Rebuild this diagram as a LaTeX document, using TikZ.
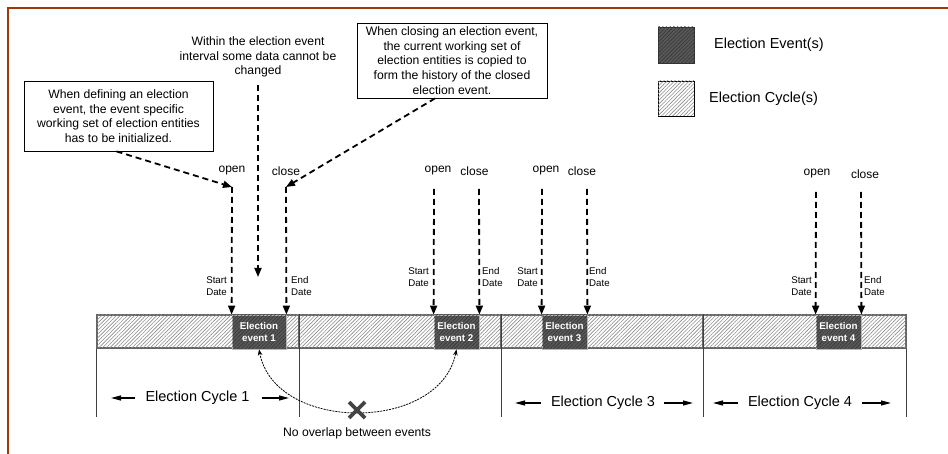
\documentclass[tikz,border=0pt]{standalone}
\usepackage{fontspec}
\setmainfont{Liberation Sans}
\usetikzlibrary{arrows.meta,patterns.meta}

\definecolor{framebrown}{RGB}{160,56,10}
\definecolor{evgray}{RGB}{88,88,88}
\definecolor{evline}{RGB}{55,55,55}
\definecolor{cycline}{RGB}{140,140,140}
\definecolor{barborder}{RGB}{100,100,100}
\definecolor{xgray}{RGB}{68,68,68}

\begin{document}
\begin{tikzpicture}[x=1pt,y=-1pt,
  hatch/.style={postaction={pattern={Lines[angle=45,distance=2.6pt,line width=0.6pt]},pattern color=#1}},
  cycbox/.style={draw=barborder,line width=1.1pt,fill=white,hatch=cycline,
    minimum height=33pt,inner sep=0pt},
  evbox/.style={draw=gray!55,line width=0.8pt,fill=evgray,hatch=evline,
    minimum height=34pt,inner sep=0pt,text=white,align=center,
    font=\fontsize{9.8}{11.5}\selectfont\bfseries},
  callout/.style={draw=black,line width=0.8pt,fill=white,align=center,inner sep=2pt,
    font=\fontsize{12.2}{14.6}\selectfont},
  note/.style={align=center,inner sep=0pt,font=\fontsize{12.2}{14.6}\selectfont},
  ocl/.style={inner sep=0pt,font=\fontsize{12}{14}\selectfont},
  datelbl/.style={inner sep=0pt,font=\fontsize{9.7}{12}\selectfont},
  cyclbl/.style={inner sep=0pt,font=\fontsize{14.5}{17}\selectfont},
  dasharrow/.style={line width=1.8pt,dash pattern=on 6pt off 4pt,
    -{Triangle[length=9pt,width=7pt]}},
  cycarrow/.style={line width=1.2pt,-{Triangle[length=10pt,width=5pt]}},
  divider/.style={line width=0.9pt,draw=black!75},
  overlap/.style={line width=0.8pt,dash pattern=on 2pt off 1pt,
    {Stealth[length=6pt,width=4.5pt]}-{Stealth[length=6pt,width=4.5pt]}},
]
\useasboundingbox (0,0) rectangle (948,454);

% frame
\draw[framebrown,line width=2.2pt] (8,454) -- (8,8) -- (948,8);

% election cycles bar
\node[cycbox,minimum width=202pt] (cyc1) at (198,331.5) {};
\node[cycbox,minimum width=202pt] (cyc2) at (400,331.5) {};
\node[cycbox,minimum width=202pt] (cyc3) at (602,331.5) {};
\node[cycbox,minimum width=203pt] (cyc4) at (804.5,331.5) {};

% election events
\node[evbox,minimum width=54pt] (ev1) at (259,332) {Election\\event 1};
\node[evbox,minimum width=45pt] (ev2) at (456.5,332) {Election\\event 2};
\node[evbox,minimum width=45pt] (ev3) at (564.5,332) {Election\\event 3};
\node[evbox,minimum width=45pt] (ev4) at (838.5,332) {Election\\event 4};

% cycle boundaries
\coordinate (base) at (0,417);
\draw[divider] (cyc1.south west) -- (cyc1.south west |- base);
\draw[divider] (cyc1.north east) -- (cyc1.north east |- base);
\draw[divider] (cyc2.north east) -- (cyc2.north east |- base);
\draw[divider] (cyc3.north east) -- (cyc3.north east |- base);
\draw[divider] (cyc4.south east) -- (cyc4.south east |- base);

% cycle labels
\node[cyclbl] (lab1) at (197.5,398) {Election Cycle 1};
\coordinate (l1a) at (111,398); \coordinate (l1b) at (289,398);
\draw[cycarrow] ([xshift=-10pt]lab1.west) -- (l1a);
\draw[cycarrow] ([xshift=12pt]lab1.east) -- (l1b);
\node[cyclbl] (lab3) at (603,403) {Election Cycle 3};
\coordinate (l3a) at (515,403); \coordinate (l3b) at (693,403);
\draw[cycarrow] ([xshift=-10pt]lab3.west) -- (l3a);
\draw[cycarrow] ([xshift=9pt]lab3.east) -- (l3b);
\node[cyclbl] (lab4) at (800,403) {Election Cycle 4};
\coordinate (l4a) at (713,403); \coordinate (l4b) at (891,403);
\draw[cycarrow] ([xshift=-10pt]lab4.west) -- (l4a);
\draw[cycarrow] ([xshift=10pt]lab4.east) -- (l4b);

% open / close markers
\node[ocl] (op1) at (232,171) {open};
\node[ocl] (cl1) at (286,171) {close};
\node[ocl] (op2) at (438,171) {open};
\node[ocl] (cl2) at (474.5,171) {close};
\node[ocl] (op3) at (546,171) {open};
\node[ocl] (cl3) at (582,171) {close};
\node[ocl] (op4) at (817,174) {open};
\node[ocl] (cl4) at (865,174) {close};

\coordinate (o1) at (232,187);  \coordinate (c1) at (286,187);
\coordinate (o2) at (434,189);  \coordinate (c2) at (479,189);
\coordinate (o3) at (542,189);  \coordinate (c3) at (587,189);
\coordinate (o4) at (816,192);  \coordinate (c4) at (861,192);
\draw[dasharrow] (o1) -- (ev1.north west);
\draw[dasharrow] (c1) -- (ev1.north east);
\draw[dasharrow] (o2) -- (ev2.north west);
\draw[dasharrow] (c2) -- (ev2.north east);
\draw[dasharrow] (o3) -- (ev3.north west);
\draw[dasharrow] (c3) -- (ev3.north east);
\draw[dasharrow] (o4) -- (ev4.north west);
\draw[dasharrow] (c4) -- (ev4.north east);

% start / end date labels
\node[datelbl,align=left,anchor=east] (sd1) at (227,286.5) {Start\\Date};
\node[datelbl,align=left,anchor=west] (ed1) at (291,286.5) {End\\Date};
\node[datelbl,align=left,anchor=east] (sd2) at (429,277.5) {Start\\Date};
\node[datelbl,align=left,anchor=west] (ed2) at (482,277.5) {End\\Date};
\node[datelbl,align=left,anchor=east] (sd3) at (538,277.5) {Start\\Date};
\node[datelbl,align=left,anchor=west] (ed3) at (589,277.5) {End\\Date};
\node[datelbl,align=left,anchor=east] (sd4) at (812,286.5) {Start\\Date};
\node[datelbl,align=left,anchor=west] (ed4) at (864,286.5) {End\\Date};

% explanatory callouts
\node[callout,minimum width=189pt,minimum height=70pt] (call1) at (118.5,116)
  {When defining an election\\event, the event specific\\working set of election entities\\has to be initialized.};
\node[callout,minimum width=190pt,minimum height=75pt] (call2) at (452,60.5)
  {When closing an election event,\\the current working set of\\election entities is copied to\\form the history of the closed\\election event.};
\draw[dasharrow] ([xshift=-2pt]call1.south) -- (o1);
\draw[dasharrow] ([xshift=-17pt]call2.south) -- (c1);

\node[note] (within) at (258,57)
  {Within the election event\\interval some data cannot be\\changed};
\coordinate (mid) at (258,277);
\draw[dasharrow] ([yshift=-8pt]within.south) -- (mid);

% no overlap between events
\draw[overlap] (ev1.south) .. controls (275,433) and (440,433) .. (ev2.south);
\coordinate (nox) at (357,410);
\draw[xgray,line width=3.6pt] ([shift={(-8,-8)}]nox) -- ([shift={(8,8)}]nox)
  ([shift={(-8,8)}]nox) -- ([shift={(8,-8)}]nox);
\node[note] (nolap) at (357,433) {No overlap between events};

% legend
\node[draw=black!80,line width=0.8pt,fill=evgray,hatch=evline,minimum size=36pt,inner sep=0pt] (legev) at (676,45) {};
\node[draw=black,line width=0.8pt,fill=white,hatch=cycline,minimum width=36pt,minimum height=35pt,inner sep=0pt] (legcyc) at (676,98.5) {};
\node[cyclbl,anchor=west] (legevt) at (714,45) {Election Event(s)};
\node[cyclbl,anchor=west] (legcyct) at (709,98.5) {Election Cycle(s)};
\end{tikzpicture}
\end{document}
